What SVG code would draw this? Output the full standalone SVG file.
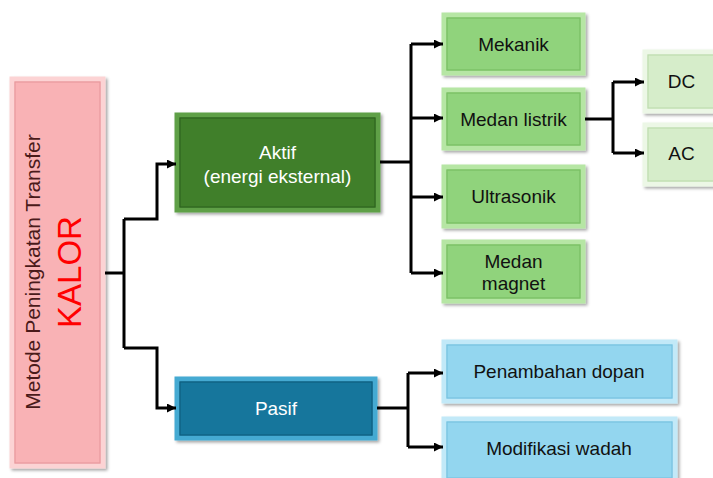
<svg xmlns="http://www.w3.org/2000/svg" width="713" height="478" viewBox="0 0 713 478">
<defs>
<filter id="sh" x="-10%" y="-10%" width="130%" height="130%">
<feDropShadow dx="2" dy="2" stdDeviation="1.5" flood-color="#000" flood-opacity="0.35"/>
</filter>
<marker id="arr" viewBox="0 0 10 10" refX="10" refY="5" markerWidth="10" markerHeight="9" markerUnits="userSpaceOnUse" orient="auto">
<path d="M0,0 L10,5 L0,10 z" fill="#000"/>
</marker>
</defs>
<style>
text{font-family:"Liberation Sans",Arial,sans-serif;font-size:19px;text-anchor:middle}
.box{filter:url(#sh)}
.in{fill:none;stroke-width:1.2}
.root{fill:#f9b2b5;stroke:#fcd3d4;stroke-width:5}
.root-in{stroke:#e89a9e}
.akt{fill:#3f7f2c;stroke:#5fa046;stroke-width:5}
.akt-in{stroke:#2f6420}
.pas{fill:#17769c;stroke:#45aad2;stroke-width:5}
.pas-in{stroke:#0f5f80}
.grn{fill:#90d37b;stroke:#b6e6a4;stroke-width:5}
.grn-in{stroke:#79bf63}
.lg{fill:#d6edca;stroke:#ecf7e6;stroke-width:5}
.lg-in{stroke:#bfdcb0}
.blu{fill:#93d6ef;stroke:#c2e9f8;stroke-width:5}
.blu-in{stroke:#78c2e0}
.w{fill:#fff}
.k{fill:#111}
.conn path{fill:none;stroke:#000;stroke-width:3}
</style>

<g id="root">
<rect class="box root" x="12" y="79" width="91" height="387"/>
<rect class="in root-in" x="15" y="82" width="85" height="381"/>
<text transform="rotate(-90 40 272)" x="40" y="272" style="font-size:21px;fill:#4a1a1a">Metode Peningkatan Transfer</text>
<text transform="rotate(-90 81 272)" x="81" y="272" style="font-size:33px;fill:#ff0000">KALOR</text>
</g>

<g id="aktif">
<rect class="box akt" x="177" y="115" width="201" height="95"/>
<rect class="in akt-in" x="180" y="118" width="195" height="89"/>
<text class="w" x="277.5" y="159">Aktif</text>
<text class="w" x="277.5" y="183">(energi eksternal)</text>
</g>

<g id="pasif">
<rect class="box pas" x="177" y="379" width="198" height="59"/>
<rect class="in pas-in" x="180" y="382" width="192" height="53"/>
<text class="w" x="276" y="415">Pasif</text>
</g>

<g id="mekanik">
<rect class="box grn" x="444" y="15" width="139" height="58"/>
<rect class="in grn-in" x="447" y="18" width="133" height="52"/>
<text class="k" x="513.5" y="51">Mekanik</text>
</g>

<g id="medan-listrik">
<rect class="box grn" x="444" y="90" width="139" height="58"/>
<rect class="in grn-in" x="447" y="93" width="133" height="52"/>
<text class="k" x="513.5" y="126">Medan listrik</text>
</g>

<g id="ultrasonik">
<rect class="box grn" x="444" y="167" width="139" height="59"/>
<rect class="in grn-in" x="447" y="170" width="133" height="53"/>
<text class="k" x="513.5" y="203">Ultrasonik</text>
</g>

<g id="medan-magnet">
<rect class="box grn" x="444" y="242" width="139" height="59"/>
<rect class="in grn-in" x="447" y="245" width="133" height="53"/>
<text class="k" x="513.5" y="268">Medan</text>
<text class="k" x="513.5" y="290">magnet</text>
</g>

<g id="dc">
<rect class="box lg" x="645" y="52" width="80" height="59"/>
<rect class="in lg-in" x="648" y="55" width="74" height="53"/>
<text class="k" x="681.5" y="88">DC</text>
</g>

<g id="ac">
<rect class="box lg" x="645" y="125" width="80" height="59"/>
<rect class="in lg-in" x="648" y="128" width="74" height="53"/>
<text class="k" x="681.5" y="160">AC</text>
</g>

<g id="penambahan-dopan">
<rect class="box blu" x="444" y="342" width="231" height="59"/>
<rect class="in blu-in" x="447" y="345" width="225" height="53"/>
<text class="k" x="559" y="378">Penambahan dopan</text>
</g>

<g id="modifikasi-wadah">
<rect class="box blu" x="444" y="419" width="231" height="62"/>
<rect class="in blu-in" x="447" y="422" width="225" height="56"/>
<text class="k" x="559" y="455">Modifikasi wadah</text>
</g>

<g id="connectors" class="conn">
<path d="M105,273 H124"/>
<path d="M124,219 V348"/>
<path d="M124,219 H157 V164 H176" marker-end="url(#arr)"/>
<path d="M124,348 H157 V408 H176" marker-end="url(#arr)"/>
<path d="M380,162 H411"/>
<path d="M411,44 V273"/>
<path d="M411,44 H443" marker-end="url(#arr)"/>
<path d="M411,118 H443" marker-end="url(#arr)"/>
<path d="M411,197 H443" marker-end="url(#arr)"/>
<path d="M411,273 H443" marker-end="url(#arr)"/>
<path d="M585,119 H613"/>
<path d="M613,82 V153"/>
<path d="M613,82 H644" marker-end="url(#arr)"/>
<path d="M613,153 H644" marker-end="url(#arr)"/>
<path d="M377,408 H408"/>
<path d="M408,373 V447"/>
<path d="M408,373 H443" marker-end="url(#arr)"/>
<path d="M408,447 H443" marker-end="url(#arr)"/>
</g>
</svg>
